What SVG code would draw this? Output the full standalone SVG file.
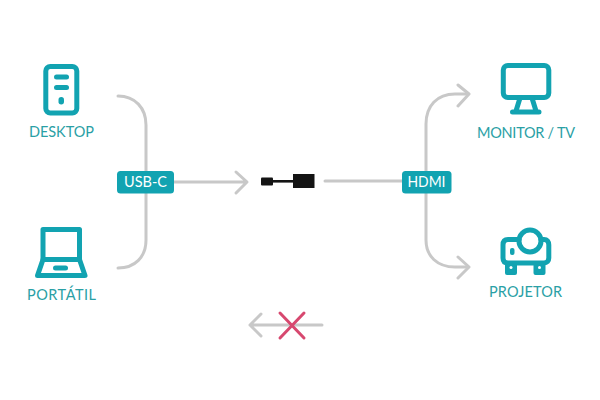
<svg xmlns="http://www.w3.org/2000/svg" width="600" height="400" viewBox="0 0 600 400">
<style>
.c{fill:none;stroke:#c8c8c8;stroke-width:3;stroke-linecap:round;stroke-linejoin:round}
.i{fill:none;stroke:#12a3b1;stroke-width:5;stroke-linejoin:round;stroke-linecap:round}
.f{fill:#12a3b1}
.t{font-family:"Lato","Noto Sans",sans-serif;font-size:14.5px;fill:#2aa0a5;text-anchor:middle;lengthAdjust:spacing}
.b{font-family:"Lato","Noto Sans",sans-serif;font-size:14.5px;fill:#fff;text-anchor:middle}
</style>
<rect width="600" height="400" fill="#fff"/>
<g id="connectors">
<path class="c" d="M118 96C135 96 146 108 146 125V240C146 257 135 268 118 268"/>
<path class="c" d="M173 182H246M236 172L247 182L236 193"/>
<path class="c" d="M325 181H402"/>
<path class="c" d="M468 94H455C437 94 426 106 426 124V240C426 256 437 267 455 267H468"/>
<path class="c" d="M458 85L469 94L458 106M458 257L469 267L458 278"/>
<path class="c" d="M322 325H250M261 314L250 325L261 336"/>
<path fill="none" stroke="#d7486f" stroke-width="3" stroke-linecap="round" d="M280 313L304 338M304 313L280 338"/>
</g>
<g id="desktop">
<rect class="i" x="45.800" y="66.500" width="31" height="46.500" rx="4.500"/>
<rect class="f" x="54" y="74.500" width="15" height="5" rx="2.500"/>
<rect class="f" x="54" y="85" width="15" height="5" rx="2.500"/>
<rect class="f" x="58.500" y="97" width="5.500" height="7.500" rx="2.700"/>
<text class="t" x="61.500" y="137" textLength="65" lengthAdjust="spacing">DESKTOP</text>
</g>
<g id="portatil">
<path class="i" d="M43 259V229.500H79.500V259"/>
<path class="i" d="M43 259.500H79.500L85 275.500H37.500Z"/>
<rect class="f" x="53" y="265.500" width="15" height="5" rx="2.500"/>
<text class="t" x="61.500" y="300" textLength="69" lengthAdjust="spacing">PORTÁTIL</text>
</g>
<g id="monitor">
<rect class="i" x="503.300" y="65.500" width="45.500" height="32" rx="4.500"/>
<path class="i" d="M520 98L516 111M532 98L536 111M512.500 112H539"/>
<text class="t" x="526" y="138" textLength="98" lengthAdjust="spacing">MONITOR / TV</text>
</g>
<g id="projetor">
<path class="i" d="M519 239.500H508C504.500 239.500 503 241.500 503 245V258C503 261 504.500 263 508 263H544C547 263 548.800 261 548.800 258V245C548.800 241.500 547 239.500 544 239.500H541"/>
<circle class="i" cx="530" cy="241" r="11"/>
<rect class="f" x="505" y="263" width="12" height="12" rx="2"/>
<rect class="f" x="533.500" y="263" width="12" height="12" rx="2"/>
<circle cx="511" cy="267.500" r="1.500" fill="#fff"/>
<circle cx="539.500" cy="267.500" r="1.500" fill="#fff"/>
<rect class="f" x="510" y="248" width="4.500" height="7" rx="2"/>
<text class="t" x="525.500" y="297" textLength="73" lengthAdjust="spacing">PROJETOR</text>
</g>
<g id="adapter" fill="#141414">
<rect x="261" y="177.500" width="12" height="8" rx="1"/>
<rect x="272" y="180" width="22" height="2.600"/>
<rect x="293" y="174" width="21.500" height="14"/>
</g>
<g id="usbc">
<rect class="f" x="117" y="171" width="57" height="22.500" rx="3.500"/>
<text class="b" x="145.500" y="187.300">USB-C</text>
</g>
<g id="hdmi">
<rect class="f" x="402" y="171" width="49.500" height="22.500" rx="3.500"/>
<text class="b" x="426.500" y="187.300" textLength="38" lengthAdjust="spacingAndGlyphs">HDMI</text>
</g>
</svg>
